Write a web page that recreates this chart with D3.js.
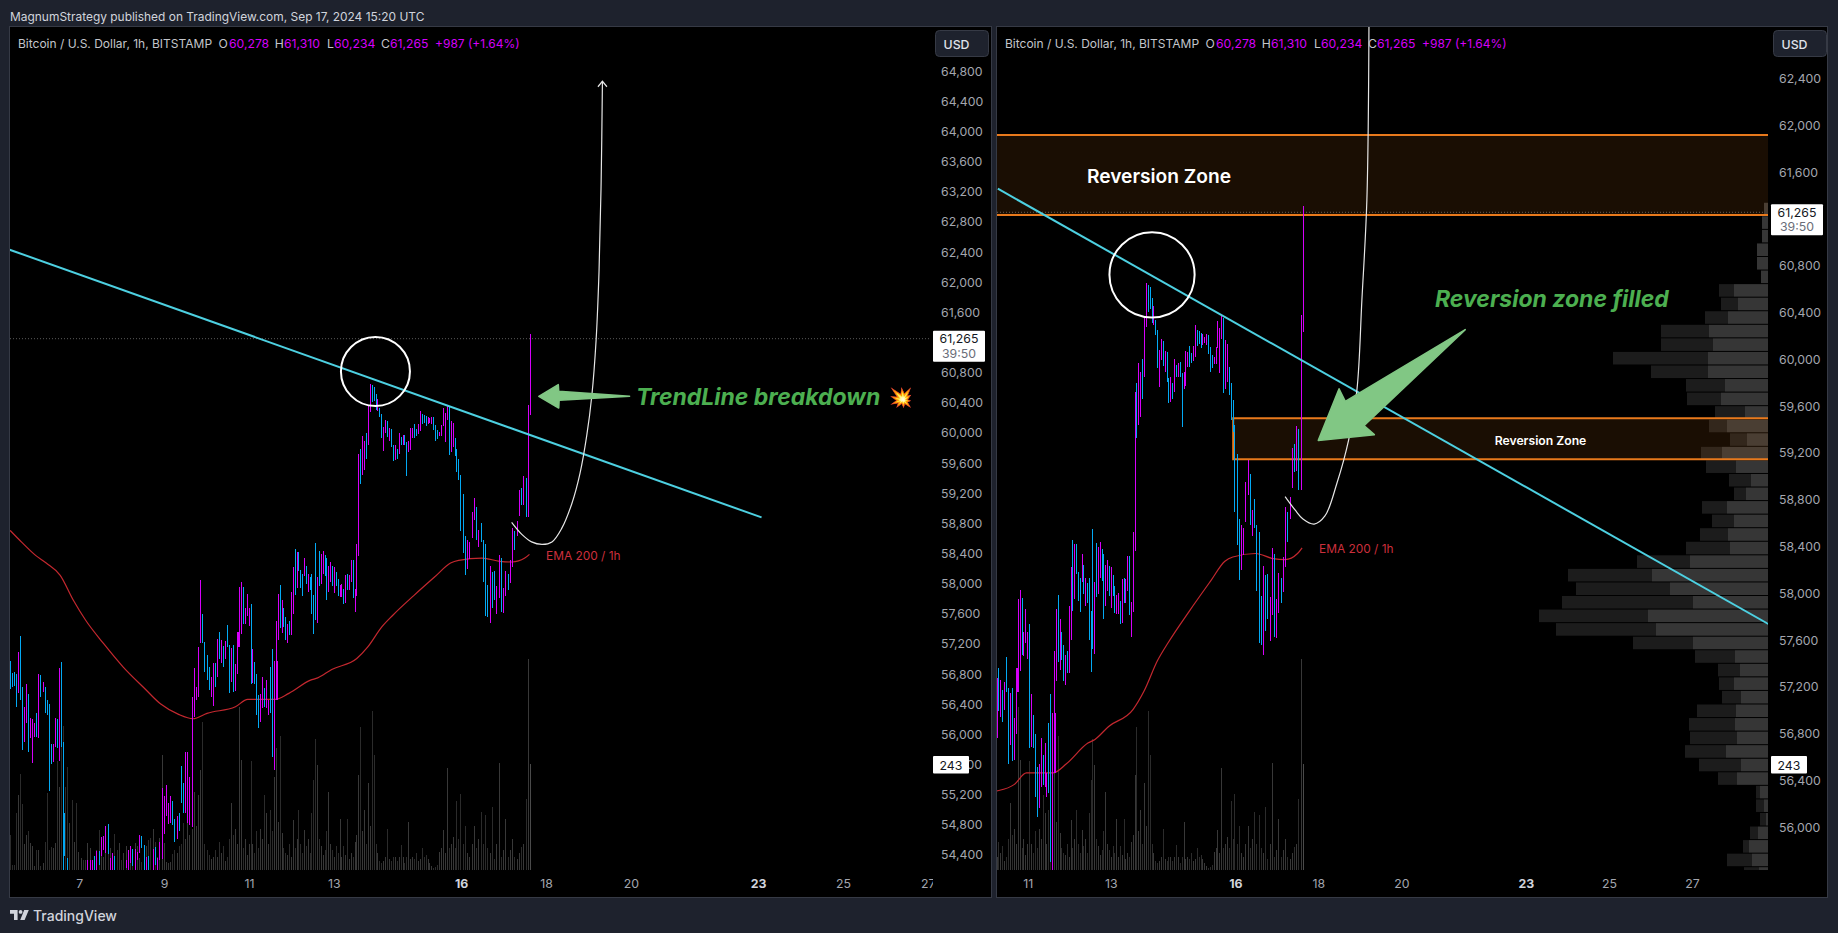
<!DOCTYPE html>
<html><head><meta charset="utf-8">
<script src="https://cdn.jsdelivr.net/npm/d3@7"></script>
<style>html,body{margin:0;padding:0;background:#1e222d;overflow:hidden}svg{display:block;font-family:Inter,Roboto,sans-serif}</style>
</head><body><svg id="c" width="1838" height="933"></svg>
<script>
// ---------- values ----------
const highs=[56977,56809,56831,56800,57100,57303,56632,56367,56668,56535,56213,56200,56156,56279,56800,56787,56690,56632,56456,56403,55873,55873,56213,56200,56884,56959,55895,54190,54359,
54180,54160,54190,54150,54170,54190,54160,54180,54328,54328,54337,54381,54447,54456,54637,54654,54787,54813,54359,54425,54390,54180,54190,54170,54160,54337,54469,54522,54478,54482,54443,54668,54646,54535,54372,54390,54180,54482,54500,54359,54579,
55286,55189,55330,55087,55189,55122,54880,54919,54955,55582,55352,55772,55772,55441,56500,56876,56633,57162,58045,57604,57229,57052,56898,56765,56942,56942,
57273,57358,57258,57173,57244,57452,57187,57144,57187,56932,57358,57950,58028,57956,57672,57865,57672,57737,57139,56959,56798,56518,56541,56766,56618,56718,56461,56889,57139,56974,57506,
57865,57985,57780,57672,57558,57472,57506,57891,58227,58455,58421,58421,58184,58127,58335,58241,58127,58085,58127,57848,58546,58093,58432,58398,58435,58375,58335,58241,58284,58233,58221,58156,58062,57985,57999,57934,58122,58127,58119,58318,58318,57928,58521,59724,
59794,59965,59894,60000,60364,60649,60635,60615,60521,60455,60336,60250,60079,60170,60159,60071,60059,59837,59846,59794,60002,59951,59971,59974,59880,59894,60071,60065,60113,60051,60113,60293,60250,60242,60222,60216,60193,60216,60207,60108,60037,60017,60102,60327,60264,60370,60350,60165,60130,59931,59794,59652,59438,
59194,58635,58584,58555,58954,59140,59020,58712,58806,58584,58521,57977,58234,58157,58165,57971,58385,58336,57949,58171,58128,58313,58735,58698,58826,59239,59276,59430,59401,60378,61310];
const lows=[56597,56632,56641,56367,56544,56456,55793,55904,56147,55771,55948,55617,55961,55970,55957,56491,56566,56279,56257,55255,55608,55635,55838,55816,55652,55838,54100,54050,54100,
54060,54040,54070,54030,54050,54080,54040,54060,54120,54130,54150,54120,54130,54270,54390,54469,54425,54416,54180,54130,54100,54060,54060,54050,54040,54226,54150,54292,54248,54170,54328,54425,54491,54120,54140,54180,54060,54160,54270,54150,54337,
54345,54681,54924,54813,54822,54800,54566,54615,54712,55087,54955,54955,54822,54800,54778,56235,56456,56500,57207,57207,56831,56721,56589,56500,56377,56633,
56766,56996,56945,56900,57002,57159,56544,56700,56567,56575,56797,57159,57338,57472,57466,57572,57435,56674,56684,56675,56256,56091,56162,56347,56362,56347,56262,56290,55706,55530,56461,
57250,57415,57344,57429,57250,57216,57321,57321,57600,57851,57948,58164,57937,57842,58099,57993,57891,57919,57600,57330,57523,57481,57971,57994,58127,58107,57780,57891,58022,57976,57874,57976,57834,57823,57823,57737,57748,57919,57914,58022,57814,57629,57842,58364,
59324,59438,59509,59658,59846,60273,60407,60427,60307,60293,60207,59928,59766,59994,59942,59894,59809,59623,59638,59658,59717,59846,59846,59846,59424,59743,59774,59937,59937,59965,59988,60022,60113,60130,60099,60122,60136,60122,60045,59894,59923,59957,59960,60093,59880,60170,59709,59743,59809,59695,59481,59381,58698,
58413,58114,58199,58328,58612,58840,58584,58490,58555,58020,57573,57558,57473,57681,57778,57595,57815,57624,57615,57835,57914,58014,58222,58442,58632,58897,59040,59048,58883,58880,60234];
// 1 = magenta (rising) bar, 0 = blue (falling) bar
const rising=[0,0,0,0,1,0,0,1,1,0,1,1,1,0,1,0,1,0,0,0,0,1,1,0,1,0,0,0,0,
1,0,1,0,1,1,0,1,1,1,1,0,1,0,1,1,1,0,1,1,0,0,1,0,1,1,1,1,0,1,1,1,0,0,1,0,0,1,0,1,1,
1,1,1,1,1,0,0,1,0,0,0,1,1,1,1,1,1,1,1,0,0,0,0,1,1,0,
1,0,1,0,1,0,0,1,0,1,1,1,1,0,1,1,1,0,1,0,0,0,1,1,0,1,1,0,0,1,1,
1,0,1,0,0,1,0,1,1,0,1,0,0,0,1,0,1,0,0,0,0,1,0,1,1,0,0,1,1,0,1,0,0,1,1,0,1,0,1,1,0,1,1,1,
0,1,1,0,1,1,0,0,0,1,0,0,1,1,0,1,0,0,1,0,1,0,1,0,0,1,1,1,0,0,1,1,0,0,0,1,1,1,0,0,0,1,1,1,1,1,0,1,1,0,0,0,0,
0,0,1,1,1,1,0,1,0,0,0,0,1,0,0,1,1,0,1,1,0,1,1,0,1,1,0,1,0,1,1];
const volumes=[80,11,11,130,172,220,151,60,80,89,61,55,9,46,46,9,15,64,176,46,52,50,61,250,190,352,330,191,237,107,160,65,153,42,27,23,24,61,50,23,31,46,92,76,30,38,46,50,23,83,46,63,23,38,54,23,19,46,61,54,27,19,57,54,69,73,93,65,30,73,264,63,19,15,19,37,46,
40,55,60,107,70,126,80,95,180,100,172,230,340,60,45,35,25,30,45,30,65,40,55,20,30,70,153,80,95,60,375,252,50,70,35,60,250,60,40,90,50,95,70,172,130,60,138,90,214,280,110,308,85,50,40,35,60,30,115,50,70,138,60,40,92,55,70,40,130,206,300,241,70,55,35,45,90,180,60,45,30,55,40,118,30,55,35,118,25,40,30,65,80,218,327,90,138,60,199,100,365,264,60,40,20,15,20,30,93,25,20,30,30,20,30,57,30,15,30,111,25,30,25,40,20,25,50,30,35,25,15,10,5,8,12,42,50,92,40,235,50,60,76,50,158,70,174,60,100,40,30,60,100,50,70,134,60,126,50,40,145,25,60,245,30,45,118,30,45,70,30,25,40,53,60,164,484,243];
// calendar day of a few recognisable bars (September 2024)
const barIndexMarks=[0,26,70,96,125,171,223,254];
const barDayMarks=[5.37,6.61,8.94,10.25,11.59,13.62,15.98,17.625];
// a few bars whose body is visibly thicker
const bodyBars=[26,106,126];
const bodyTops=[54954,57358,56974];
const bodyBottoms=[54381,57159,56461];

const emaDays=[5.37,5.64,5.97,6.22,6.55,6.86,7.15,7.57,8.03,8.54,8.92,9.34,9.68,10.01,10.68,10.97,11.61,11.94,12.45,12.62,12.95,13.54,13.80,14.13,14.39,14.89,15.40,15.75,15.94,16.49,16.91,17.20,17.50,17.61];
const emaValues=[58707,58552,58376,58274,58111,57780,57515,57207,56897,56610,56403,56266,56208,56280,56367,56465,56465,56545,56720,56751,56862,57008,57162,57427,57582,57846,58102,58274,58310,58340,58297,58288,58340,58389];

const profileUp=[12,18,18,33,33,21,102,90,120,177,165,180,180,129,141,69,123,63,138,96,51,66,123,102,120,114,234,348,294,225,360,336,225,99,84,102,81,96,99,93,126,81,93,24,12,6,30,57,48,27];
const profileDown=[0,0,0,0,0,0,45,51,69,144,156,285,171,117,102,90,54,51,63,90,66,36,75,66,84,132,159,252,282,393,327,300,180,120,66,45,57,117,138,141,123,126,57,12,24,18,24,18,75,45];
const profileTopPrice=61338, profileBinSize=115.9;

const priceTicksLeft=d3.range(54400,64801,400).filter(p=>p!==61200);
const priceTicksRight=d3.range(56000,62401,400).filter(p=>p!==61200);
const dayTicksLeft=[7,9,11,13,16,18,20,23,25,27];
const dayTicksRight=[11,13,16,18,20,23,25,27];
const boldDays=[16,23];

const lastPrice=61265, countdown="39:50", lastVolume=243;
const publishLine="MagnumStrategy published on TradingView.com, Sep 17, 2024 15:20 UTC";
const symbolLine="Bitcoin / U.S. Dollar, 1h, BITSTAMP";
const ohlcLetters=["O","H","L","C"];
const ohlcValues=["60,278","61,310","60,234","61,265"];
const changeText="+987 (+1.64%)";

const trendLeftDays=[5.34,23.08],  trendLeftPrices=[62436,58880];
const trendRightDays=[10.28,28.84],trendRightPrices=[61458,57738];
const circleLeft=[13.98,60817], circleRight=[13.995,60722];
const curveLeftDays=[17.19,17.43,17.66,17.91,18.14,18.37,18.61,18.80,18.96,19.08,19.18,19.25,19.30,19.33];
const curveLeftPrices=[58813,58654,58555,58522,58555,58734,59065,59462,59966,60495,61224,62151,63343,64668];
const curveRightDays=[17.20,17.44,17.63,17.90,18.16,18.45,18.73,18.93,19.05,19.17,19.22];
const curveRightPrices=[58826,58712,58635,58592,58661,58943,59310,59737,60507,61362,62840];
const arrowLeftDays=[17.83,18.29,18.30,19.97,18.31,18.30];
const arrowLeftPrices=[60487,60642,60554,60487,60434,60332];
const arrowRightDays=[18.00,18.50,18.65,21.54,19.10,19.35];
const arrowRightPrices=[59307,59748,59640,60254,59433,59356];
const zoneTop=[61917,61233], zoneSmall=[59496,59145], zoneSmallStartDay=15.95;

// ---------- layout ----------
const bg="#1e222d",frame="#363a45",upColor="#d500f9",downColor="#03a9f4",trendColor="#4dd0e1",emaColor="#c4282f";
const svg=d3.select("#c");
svg.append("rect").attr("width",1838).attr("height",933).attr("fill",bg);
const defs=svg.append("defs");
const dayOfBar=d3.scaleLinear().domain(barIndexMarks).range(barDayMarks);
const bars=highs.map((h,i)=>({i,h,l:lows[i],up:rising[i],v:volumes[i]||0,d:dayOfBar(i)}));
const emaPts=emaDays.map((d,i)=>[d,emaValues[i]]);

function pane(o){
  const x=o.x,y=o.y,B=o.box;
  const sx=d=>Math.round(x(d))+.5;
  svg.append("rect").attr("x",B.l-.5).attr("y",B.t-.5).attr("width",B.r-B.l+1).attr("height",B.b-B.t+1).attr("fill","#000").attr("stroke",frame);
  const id="clip"+o.id;
  defs.append("clipPath").attr("id",id).append("rect").attr("x",B.l).attr("y",B.t).attr("width",B.ax-B.l).attr("height",B.pb-B.t);
  defs.append("clipPath").attr("id",id+"x").append("rect").attr("x",B.l).attr("y",B.pb).attr("width",B.ax+3-B.l).attr("height",B.b-B.pb);
  const g=svg.append("g").attr("clip-path",`url(#${id})`);
  // volume
  const vy=d3.scaleLinear().domain([0,484]).range([B.pb,659]);
  g.append("g").attr("shape-rendering","crispEdges").selectAll("line").data(bars.filter(b=>b.v>0)).join("line")
    .attr("x1",b=>sx(b.d)).attr("x2",b=>sx(b.d)).attr("y1",B.pb).attr("y2",b=>vy(b.v))
    .attr("stroke",b=>b.i==254?"#4a4a4a":(b.up?"#383838":"#2b2b2b")).attr("stroke-width",1);
  // last price dotted
  g.append("line").attr("x1",B.l).attr("x2",B.ax).attr("y1",y(lastPrice)+1).attr("y2",y(lastPrice)+1)
    .attr("stroke","#5a5a5a").attr("stroke-dasharray","1 2");
  if(o.profile){
    const w=d3.scaleLinear().domain([0,687]).range([0,229]);
    const rows=profileUp.map((u,i)=>({u,d:profileDown[i],p:profileTopPrice-i*profileBinSize}));
    const h=Math.abs(y(0)-y(profileBinSize))-1;
    g.append("g").selectAll("rect").data(rows).join("rect").attr("x",r=>B.ax-w(r.u+r.d)).attr("y",r=>y(r.p)).attr("width",r=>w(r.d)).attr("height",h).attr("fill","#1c1c1c");
    g.append("g").selectAll("rect").data(rows).join("rect").attr("x",r=>B.ax-w(r.u)).attr("y",r=>y(r.p)).attr("width",r=>w(r.u)).attr("height",h).attr("fill","#363636");
    const zone=(top,bot,day)=>{
      const xs=day==null?B.l:x(day);
      g.append("rect").attr("x",xs).attr("y",y(top)).attr("width",B.ax-xs).attr("height",y(bot)-y(top))
       .attr("fill","rgba(255,140,30,.1)");
      g.append("path").attr("fill","none").attr("stroke","#e8791c").attr("stroke-width",2)
       .attr("d",day==null?`M${B.l},${y(top)}H${B.ax}M${B.l},${y(bot)}H${B.ax}`:`M${B.ax},${y(top)}H${xs}V${y(bot)}H${B.ax}`);
    };
    zone(zoneTop[0],zoneTop[1],null);
    zone(zoneSmall[0],zoneSmall[1],zoneSmallStartDay);
  }
  // EMA
  g.append("path").datum(emaPts).attr("fill","none").attr("stroke",emaColor).attr("stroke-width",1.2)
    .attr("d",d3.line().x(d=>x(d[0])).y(d=>y(d[1])).curve(d3.curveMonotoneX));
  // candles
  g.append("g").attr("shape-rendering","crispEdges").selectAll("line").data(bars).join("line")
    .attr("x1",b=>sx(b.d)).attr("x2",b=>sx(b.d)).attr("y1",b=>y(b.h)).attr("y2",b=>y(b.l))
    .attr("stroke",b=>b.up?upColor:downColor).attr("stroke-width",1);
  g.append("g").attr("shape-rendering","crispEdges").selectAll("line").data(bodyBars).join("line")
    .attr("x1",i=>sx(bars[i].d)+.5).attr("x2",i=>sx(bars[i].d)+.5).attr("y1",(i,k)=>y(bodyTops[k])).attr("y2",(i,k)=>y(bodyBottoms[k]))
    .attr("stroke",i=>bars[i].up?upColor:downColor).attr("stroke-width",2);
  // trend line
  g.append("line").attr("x1",x(o.trendD[0])).attr("x2",x(o.trendD[1])).attr("y1",y(o.trendP[0])).attr("y2",y(o.trendP[1]))
    .attr("stroke",trendColor).attr("stroke-width",2);
  // circle
  g.append("circle").attr("cx",x(o.circle[0])).attr("cy",y(o.circle[1])).attr("r",o.r).attr("fill","none").attr("stroke","#fff").attr("stroke-width",2);
  // curve
  const curvePts=o.curveD.map((d,i)=>[x(d),y(o.curveP[i])]);
  g.append("path").datum(curvePts).attr("fill","none").attr("stroke","#e6e6e6").attr("stroke-width",1.2)
    .attr("d",d3.line().curve(d3.curveCatmullRom));
  if(o.chevron){const e=curvePts[curvePts.length-1];
    g.append("path").attr("fill","none").attr("stroke","#e6e6e6").attr("stroke-width",1.2)
     .attr("d",`M${e[0]-4.5},${e[1]+5.5}L${e[0]},${e[1]}L${e[0]+4.5},${e[1]+5.5}`);}
  // green arrow
  g.append("polygon").attr("points",o.arrowD.map((d,i)=>[x(d),y(o.arrowP[i])].join(",")).join(" "))
    .attr("fill","#81c784").attr("stroke","#81c784").attr("stroke-width",1.5).attr("stroke-linejoin","round");
  // texts inside plot
  o.notes.forEach(n=>{g.append("text").attr("x",n.x).attr("y",n.y).attr("dominant-baseline","central").attr("text-anchor",n.a||"start")
    .attr("fill",n.c).attr("font-size",n.s).attr("font-weight",n.w||400).attr("font-style",n.i?"italic":"normal").attr("font-family",n.f||null).text(n.t);});
  // legend
  const L=o.dx;
  const t=(px,s,c,fs)=>svg.append("text").attr("x",px+L).attr("y",43).attr("dominant-baseline","central").attr("font-size",fs||12.2).attr("fill",c).text(s);
  t(18,symbolLine,"#c3c5cb",12);
  const lx=[218.6,274.7,327,381],vx=[229,284,334,390];
  ohlcLetters.forEach((s,i)=>{t(lx[i],s,"#c3c5cb");t(vx[i],ohlcValues[i],upColor);});
  t(435,changeText,upColor,12);
  // axes
  const ay=svg.append("g").attr("transform",`translate(${B.ax+6},0)`).call(d3.axisRight(y).tickValues(o.pt).tickFormat(d3.format(",")).tickSize(0).tickPadding(5));
  ay.select(".domain").remove();
  ay.selectAll("text").attr("font-size",12.3).attr("fill","#a3a6af").attr("font-family","Inter,Roboto,sans-serif");
  const ax=svg.append("g").attr("clip-path",`url(#${id}x)`).append("g").attr("transform",`translate(0,${B.pb})`).call(d3.axisBottom(x).tickValues(o.dt).tickFormat(String).tickSize(0).tickPadding(9));
  ax.select(".domain").remove();
  ax.selectAll("text").attr("font-size",12.3).attr("font-family","Inter,Roboto,sans-serif").attr("fill",d=>boldDays.includes(d)?"#d1d4dc":"#a3a6af").attr("font-weight",d=>boldDays.includes(d)?700:400);
  // USD button
  svg.append("rect").attr("x",B.ax+5.5).attr("y",30.5).attr("width",53).attr("height",26).attr("rx",4).attr("fill",bg).attr("stroke",frame);
  svg.append("text").attr("x",B.ax+26.5).attr("y",44).attr("text-anchor","middle").attr("dominant-baseline","central").attr("font-size",12.3).attr("font-weight",500).attr("fill","#e0e3eb").text("USD");
  // last price and volume labels
  const ly=y(lastPrice);
  svg.append("rect").attr("x",B.ax+3).attr("y",ly-7).attr("width",52).attr("height",31).attr("fill","#fff").attr("rx",1);
  svg.append("text").attr("x",B.ax+29).attr("y",ly+1).attr("text-anchor","middle").attr("dominant-baseline","central").attr("font-size",12.3).attr("fill","#131722").text(d3.format(",")(lastPrice));
  svg.append("text").attr("x",B.ax+29).attr("y",ly+15.5).attr("text-anchor","middle").attr("dominant-baseline","central").attr("font-size",12.3).attr("fill","#6a6d78").text(countdown);
  svg.append("rect").attr("x",B.ax+3).attr("y",756).attr("width",36).attr("height",17.5).attr("fill","#fff").attr("rx",1);
  svg.append("text").attr("x",B.ax+21).attr("y",765).attr("text-anchor","middle").attr("dominant-baseline","central").attr("font-size",12.3).attr("fill","#131722").text(lastVolume);
}

const green="#4caf50";
pane({id:"L",dx:0,box:{l:10,t:27,r:991,b:897,ax:930,pb:870},
  x:d3.scaleLinear().domain([7,18]).range([79.3,546]),
  y:d3.scaleLinear().domain([54400,64800]).range([855,71.3]),
  pt:priceTicksLeft,dt:dayTicksLeft,trendD:trendLeftDays,trendP:trendLeftPrices,circle:circleLeft,r:34.5,
  curveD:curveLeftDays,curveP:curveLeftPrices,chevron:true,arrowD:arrowLeftDays,arrowP:arrowLeftPrices,
  notes:[{x:636,y:397,t:"TrendLine breakdown",c:green,s:23,w:700,i:1,f:"Inter"},
         {x:889,y:397,t:"💥",c:"#ff7a1a",s:19},
         {x:546,y:555,t:"EMA 200 / 1h",c:"#cc2f3c",s:11.9}]});
pane({id:"R",dx:987,box:{l:997,t:27,r:1827,b:897,ax:1768,pb:870},profile:true,
  x:d3.scaleLinear().domain([11,18]).range([1027.7,1318.3]),
  y:d3.scaleLinear().domain([56000,62400]).range([827.3,78.5]),
  pt:priceTicksRight,dt:dayTicksRight,trendD:trendRightDays,trendP:trendRightPrices,circle:circleRight,r:42.6,
  curveD:curveRightDays,curveP:curveRightPrices,chevron:false,arrowD:arrowRightDays,arrowP:arrowRightPrices,
  notes:[{x:1159,y:176,a:"middle",t:"Reversion Zone",c:"#fff",s:19.2,w:600},
         {x:1540.5,y:440,a:"middle",t:"Reversion Zone",c:"#fff",s:12.2,w:600},
         {x:1435,y:299,t:"Reversion zone filled",c:green,s:23,w:700,i:1,f:"Inter"},
         {x:1319,y:548,t:"EMA 200 / 1h",c:"#cc2f3c",s:11.9}]});

// header + footer
svg.append("text").attr("x",10).attr("y",16).attr("dominant-baseline","central").attr("font-size",11.95).attr("fill","#d1d4dc").text(publishLine);
svg.append("path").attr("fill","#d1d4dc").attr("d","M10,910h7.6v10h-3.6v-6.2h-4zM24.2,910h4.6l-4.2,10h-4.4z");
svg.append("circle").attr("cx",20.6).attr("cy",911.9).attr("r",1.9).attr("fill","#d1d4dc");
svg.append("text").attr("x",33).attr("y",915.5).attr("dominant-baseline","central").attr("font-size",14).attr("font-weight",500).attr("fill","#d1d4dc").text("TradingView");
</script></body></html>
